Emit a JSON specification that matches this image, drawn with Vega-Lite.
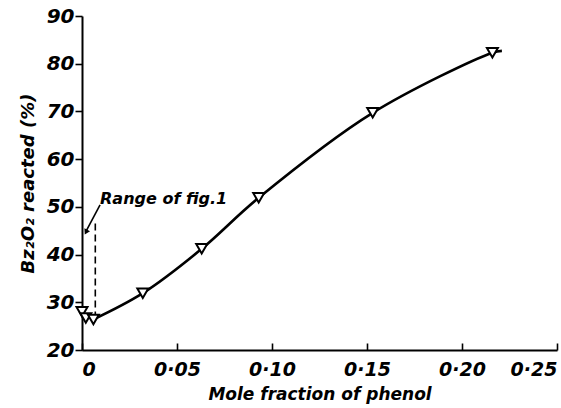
{
  "$schema": "https://vega.github.io/schema/vega-lite/v6.json",
  "width": 475,
  "height": 334,
  "autosize": "none",
  "padding": {"left": 82, "top": 16, "right": 4, "bottom": 58},
  "background": "white",
  "config": {
    "view": {"stroke": null},
    "font": "DejaVu Sans",
    "axis": {
      "grid": false,
      "domainColor": "black",
      "domainWidth": 2,
      "tickColor": "black",
      "tickWidth": 1.6,
      "labelColor": "black",
      "titleColor": "black",
      "labelFont": "DejaVu Sans",
      "titleFont": "DejaVu Sans",
      "labelFontStyle": "italic",
      "labelFontWeight": "bold",
      "titleFontStyle": "italic",
      "titleFontWeight": "bold"
    }
  },
  "datasets": {
    "measured": [
      {"phenol": 0.0, "reacted": 28.0},
      {"phenol": 0.002, "reacted": 26.7},
      {"phenol": 0.006, "reacted": 26.4},
      {"phenol": 0.032, "reacted": 31.9},
      {"phenol": 0.063, "reacted": 41.2},
      {"phenol": 0.093, "reacted": 51.9},
      {"phenol": 0.153, "reacted": 69.7},
      {"phenol": 0.216, "reacted": 82.3}
    ],
    "curve": [
      {"phenol": 0.006, "reacted": 26.4},
      {"phenol": 0.032, "reacted": 31.9},
      {"phenol": 0.063, "reacted": 41.2},
      {"phenol": 0.093, "reacted": 51.9},
      {"phenol": 0.153, "reacted": 69.7},
      {"phenol": 0.216, "reacted": 82.3},
      {"phenol": 0.221, "reacted": 82.7}
    ],
    "range": [{"phenol": 0.007, "low": 26.6, "high": 46.5}],
    "pointer": [
      {"phenol": 0.0095, "reacted": 50.4, "order": 1},
      {"phenol": 0.0023, "reacted": 45.0, "order": 2}
    ],
    "tip": [{"phenol": 0.0021, "reacted": 44.7}],
    "note": [{"phenol": 0.0095, "reacted": 51.6, "label": "Range of fig.1"}]
  },
  "encoding": {
    "x": {
      "field": "phenol",
      "type": "quantitative",
      "scale": {"domain": [0, 0.25], "nice": false, "zero": false},
      "axis": {
        "title": "Mole fraction of phenol",
        "values": [0, 0.05, 0.1, 0.15, 0.2, 0.25],
        "labelExpr": "datum.value == 0 ? '0' : replace(format(datum.value, '.2f'), '.', '·')",
        "tickSize": -7,
        "labelPadding": 17,
        "labelFontSize": 19,
        "titleFontSize": 17,
        "titlePadding": 7,
        "labelFlush": true
      }
    },
    "y": {
      "field": "reacted",
      "type": "quantitative",
      "scale": {"domain": [20, 90], "nice": false, "zero": false},
      "axis": {
        "title": "Bz₂O₂ reacted (%)",
        "values": [20, 30, 40, 50, 60, 70, 80, 90],
        "tickSize": 7,
        "labelPadding": 1,
        "labelFontSize": 20,
        "titleFontSize": 18,
        "titlePadding": 9,
        "labelFlush": false
      }
    }
  },
  "layer": [
    {
      "data": {"name": "curve"},
      "mark": {"type": "line", "color": "black", "strokeWidth": 2.6, "interpolate": "catmull-rom"}
    },
    {
      "data": {"name": "range"},
      "mark": {"type": "rule", "color": "black", "strokeWidth": 1.6, "strokeDash": [7, 4]},
      "encoding": {
        "y": {"field": "low", "type": "quantitative"},
        "y2": {"field": "high"}
      }
    },
    {
      "data": {"name": "pointer"},
      "mark": {"type": "line", "color": "black", "strokeWidth": 1.6},
      "encoding": {"order": {"field": "order"}}
    },
    {
      "data": {"name": "tip"},
      "mark": {"type": "point", "shape": "triangle-up", "angle": 207, "filled": true, "color": "black", "size": 40, "opacity": 1}
    },
    {
      "data": {"name": "measured"},
      "mark": {"type": "point", "shape": "triangle-down", "filled": true, "fill": "white", "stroke": "black", "strokeWidth": 2, "size": 120, "opacity": 1}
    },
    {
      "data": {"name": "note"},
      "mark": {"type": "text", "align": "left", "baseline": "middle", "fontSize": 16, "fontStyle": "italic", "fontWeight": "bold", "color": "black"},
      "encoding": {"text": {"field": "label"}}
    }
  ]
}
